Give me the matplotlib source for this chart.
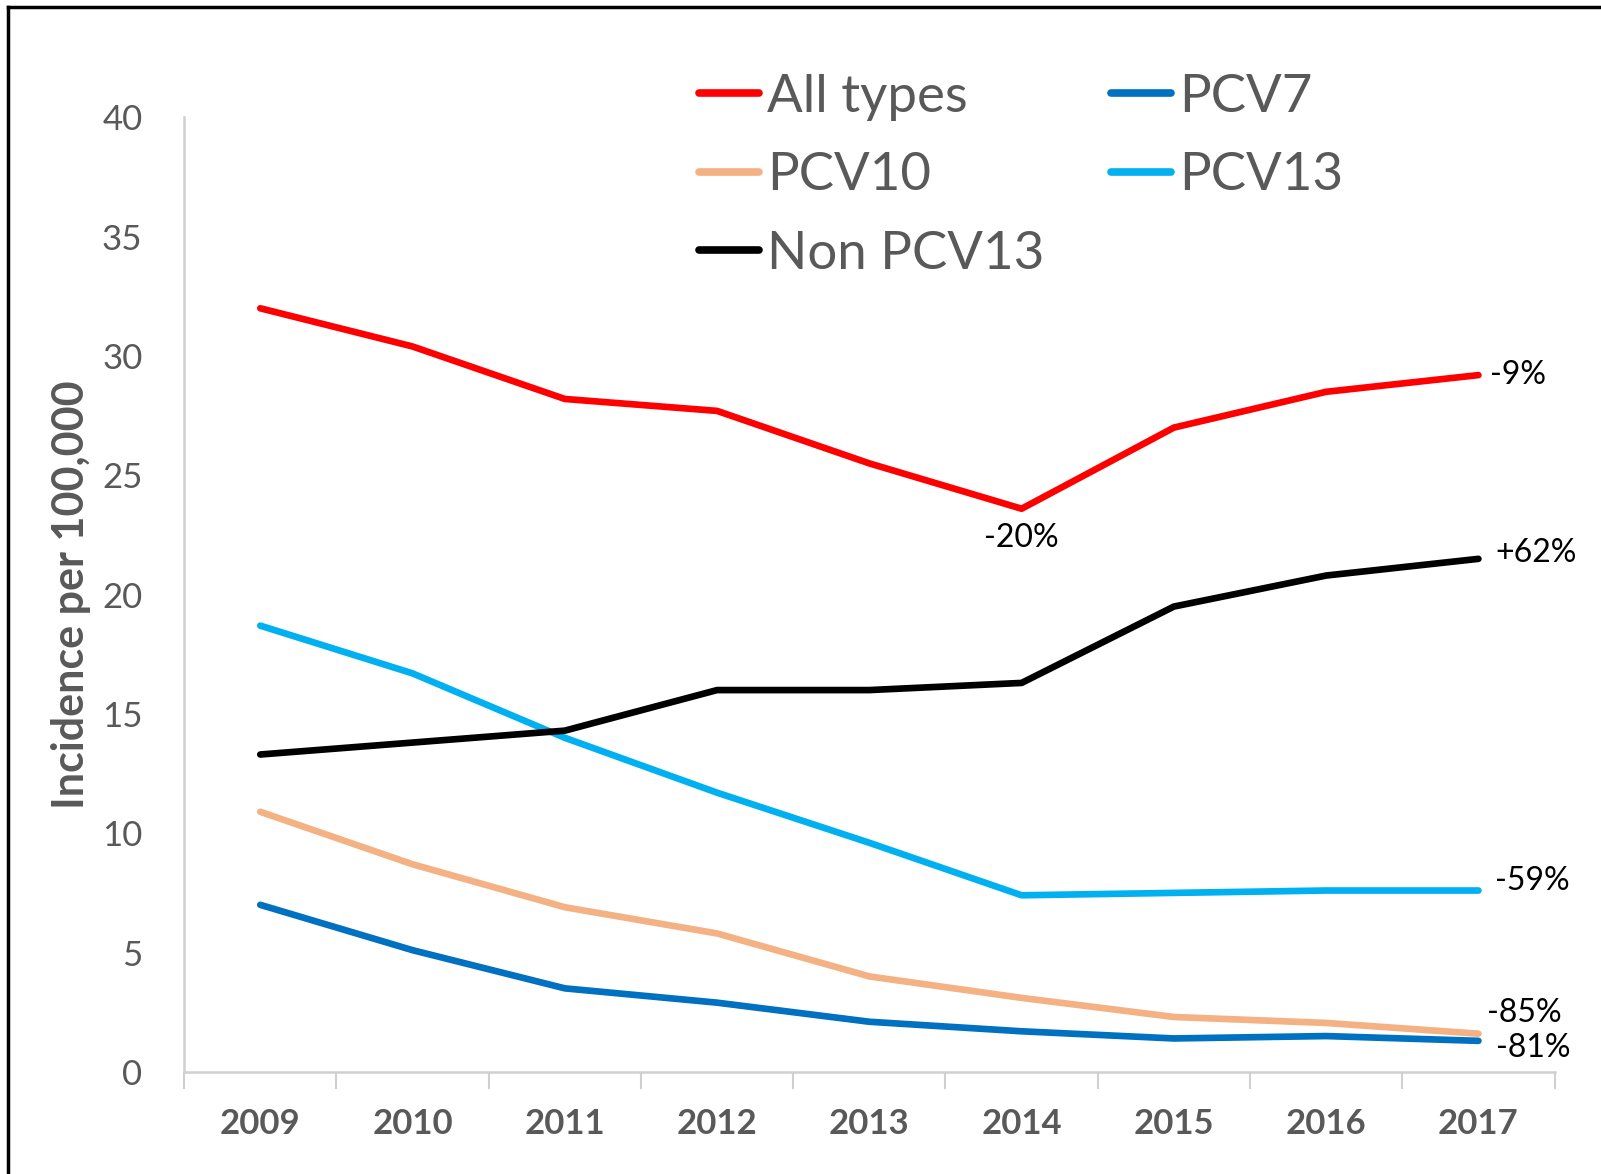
import matplotlib
matplotlib.use("Agg")
import matplotlib.pyplot as plt
from matplotlib.lines import Line2D
import numpy as np

years = ["2009", "2010", "2011", "2012", "2013", "2014", "2015", "2016", "2017"]
all_types = [32.0, 30.4, 28.2, 27.7, 25.5, 23.6, 27.0, 28.5, 29.2]
pcv7 = [7.0, 5.1, 3.5, 2.9, 2.1, 1.7, 1.4, 1.5, 1.3]
pcv10 = [10.9, 8.7, 6.9, 5.8, 4.0, 3.1, 2.3, 2.05, 1.6]
pcv13 = [18.7, 16.7, 14.0, 11.7, 9.6, 7.4, 7.5, 7.6, 7.6]
non_pcv13 = [13.3, 13.8, 14.3, 16.0, 16.0, 16.3, 19.5, 20.8, 21.5]
yticks = [0, 5, 10, 15, 20, 25, 30, 35, 40]

plt.rcParams['font.family'] = ['Lato', 'DejaVu Sans']
GRAY = '#595959'

fig = plt.figure(figsize=(16.01, 11.74), dpi=100)
ax = fig.add_axes([0.115, 0.087, 0.856, 0.813])
x = np.arange(len(years))

lw = 4.8
l_all, = ax.plot(x, all_types, color='#FF0000', lw=lw, label='All types', solid_capstyle='round')
l_7, = ax.plot(x, pcv7, color='#0070C0', lw=lw, label='PCV7', solid_capstyle='round')
l_10, = ax.plot(x, pcv10, color='#F4B183', lw=lw, label='PCV10', solid_capstyle='round')
l_13, = ax.plot(x, pcv13, color='#00B0F0', lw=lw, label='PCV13', solid_capstyle='round')
l_non, = ax.plot(x, non_pcv13, color='#000000', lw=lw, label='Non PCV13', solid_capstyle='round')

ax.set_xlim(-0.5, 8.5)
ax.set_ylim(0, 40)
ax.set_yticks(yticks)
ax.set_yticklabels([str(v) for v in yticks], color=GRAY, fontsize=25)
ax.tick_params(axis='y', length=0, pad=30)
ax.set_xticks(x)
ax.set_xticklabels(years, color=GRAY, fontsize=25, fontweight='bold')
ax.tick_params(axis='x', length=0, pad=26)
ax.set_xticks(np.arange(-0.5, 9.0, 1.0), minor=True)
ax.tick_params(axis='x', which='minor', length=12, width=1.5, color='#D0D0D0', direction='out')

for s in ['top', 'right']:
    ax.spines[s].set_visible(False)
for s in ['left', 'bottom']:
    ax.spines[s].set_color('#D0D0D0')
    ax.spines[s].set_linewidth(1.8)

ax.set_ylabel('Incidence per 100,000', color=GRAY, fontsize=31, fontweight='bold', labelpad=8)

handles = [l_all, l_10, l_non, l_7, l_13]
leg = ax.legend(handles=handles, labels=[h.get_label() for h in handles], ncol=2,
                loc='upper left', bbox_to_anchor=(0.36, 1.068), frameon=False,
                fontsize=38, handlelength=1.15, handletextpad=0.15, columnspacing=1.25,
                labelspacing=0.6, borderaxespad=0)
for t in leg.get_texts():
    t.set_color(GRAY)
for h in leg.get_lines():
    h.set_linewidth(5.5)

ann = dict(fontsize=23, color='black')
ax.annotate('-9%', (8, all_types[8]), xytext=(8, 0), textcoords='offset points', va='center', ha='left', **ann)
ax.annotate('+62%', (8, non_pcv13[8]), xytext=(12, 4), textcoords='offset points', va='center', ha='left', **ann)
ax.annotate('-20%', (5, all_types[5]), xytext=(0, -10), textcoords='offset points', va='top', ha='center', **ann)
ax.annotate('-59%', (8, pcv13[8]), xytext=(12, 7), textcoords='offset points', va='center', ha='left', **ann)
ax.annotate('-85%', (8, pcv10[8]), xytext=(6, 15), textcoords='offset points', va='center', ha='left', **ann)
ax.annotate('-81%', (8, pcv7[8]), xytext=(13, -5), textcoords='offset points', va='center', ha='left', **ann)

# frame lines at left and top of the figure
fig.add_artist(Line2D([8/1601, 8/1601], [0, 1 - 7/1174], transform=fig.transFigure, color='black', lw=2.5))
fig.add_artist(Line2D([8/1601, 1], [1 - 7/1174, 1 - 7/1174], transform=fig.transFigure, color='black', lw=2.5))

fig.savefig('out.png', dpi=100, facecolor='white')
